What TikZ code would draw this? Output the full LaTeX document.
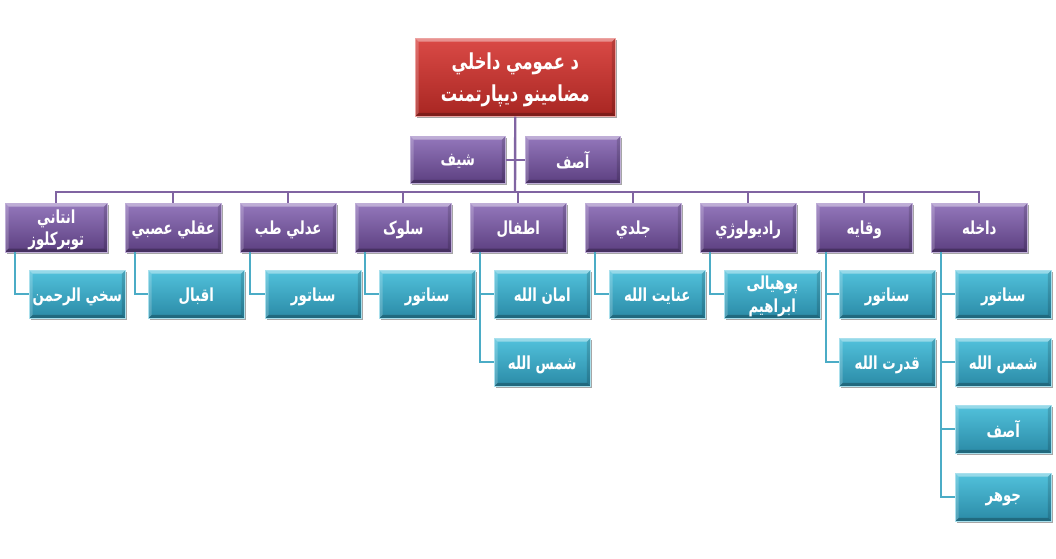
\documentclass[tikz,border=0pt]{standalone}
\usepackage{fontspec}
\TeXXeTstate=1
\newfontfamily\arabicfont[Script=Arabic,FakeStretch=0.74]{DejaVu Sans}
\usetikzlibrary{shadows,calc}
\definecolor{redT}{HTML}{DA4A46}
\definecolor{redB}{HTML}{A82622}
\definecolor{purT}{HTML}{9478BC}
\definecolor{purB}{HTML}{5C3F80}
\definecolor{tealT}{HTML}{52C2DC}
\definecolor{tealB}{HTML}{2A8AA6}
\definecolor{purLine}{HTML}{8064A2}
\definecolor{tealLine}{HTML}{4BACC6}
\newcommand\artxt[1]{\beginR #1\endR}
\begin{document}
\begin{tikzpicture}[x=0.75pt,y=-0.75pt,
 bevel/.style={path picture={
   \fill[white,opacity=0.4] (path picture bounding box.north west) -- (path picture bounding box.north east)
     -- ([xshift=-2.5pt,yshift=-2.5pt]path picture bounding box.north east) -- ([xshift=2.5pt,yshift=-2.5pt]path picture bounding box.north west) -- cycle;
   \fill[white,opacity=0.2] (path picture bounding box.north west) -- (path picture bounding box.south west)
     -- ([xshift=2.5pt,yshift=2.5pt]path picture bounding box.south west) -- ([xshift=2.5pt,yshift=-2.5pt]path picture bounding box.north west) -- cycle;
   \fill[black,opacity=0.25] (path picture bounding box.south west) -- (path picture bounding box.south east)
     -- ([xshift=-2.5pt,yshift=2.5pt]path picture bounding box.south east) -- ([xshift=2.5pt,yshift=2.5pt]path picture bounding box.south west) -- cycle;
   \fill[black,opacity=0.15] (path picture bounding box.north east) -- (path picture bounding box.south east)
     -- ([xshift=-2.5pt,yshift=2.5pt]path picture bounding box.south east) -- ([xshift=-2.5pt,yshift=-2.5pt]path picture bounding box.north east) -- cycle;
 }},
 box/.style={rectangle, anchor=north west, inner sep=1pt, minimum width=72pt, minimum height=36.5pt,
   align=center, text=white, font=\arabicfont\bfseries\fontsize{13.5}{17}\selectfont, line width=0.4pt, bevel,
   text depth=0pt,
   drop shadow={shadow xshift=1.5pt, shadow yshift=-1.5pt, opacity=0.35, fill=black}},
 redbox/.style={box, top color=redT, bottom color=redB, draw=redT!50!white, minimum width=150pt,
   minimum height=58.5pt, font=\arabicfont\bfseries\fontsize{16.5}{24}\selectfont},
 purbox/.style={box, top color=purT, bottom color=purB, draw=purT!60!white},
 tealbox/.style={box, top color=tealT, bottom color=tealB, draw=tealT!50!white, minimum height=36pt},
 pline/.style={draw=purLine, line width=1.8pt},
 tline/.style={draw=tealLine, line width=1.8pt},
]
\useasboundingbox (0,0) rectangle (1056,559);
\fill[white] (0,0) rectangle (1056,559);

% top and assistants
\node[redbox] (top) at (415,38) {\artxt{د عمومي داخلي}\\\artxt{مضامينو ديپارتمنت}};
\node[purbox, minimum width=71.25pt, minimum height=35.25pt] (a1) at (410,136) {\artxt{شيف}};
\node[purbox, minimum width=71.25pt, minimum height=35.25pt] (a2) at (525,136) {\artxt{آصف}};

% level 2
\node[purbox, minimum width=76.5pt] (l1) at (5,203) {\artxt{انتاني}\\\artxt{توبرکلوز}};
\node[purbox] (l2) at (125,203) {\artxt{عقلي عصبي}};
\node[purbox] (l3) at (240,203) {\artxt{عدلي طب}};
\node[purbox] (l4) at (355,203) {\artxt{سلوک}};
\node[purbox] (l5) at (470,203) {\artxt{اطفال}};
\node[purbox] (l6) at (585,203) {\artxt{جلدي}};
\node[purbox] (l7) at (700,203) {\artxt{راديولوژي}};
\node[purbox] (l8) at (816,203) {\artxt{وقایه}};
\node[purbox] (l9) at (931,203) {\artxt{داخله}};

% level 3
\node[tealbox] (c1) at (29,270) {\artxt{سخي الرحمن}};
\node[tealbox] (c2) at (148,270) {\artxt{اقبال}};
\node[tealbox] (c3) at (265,270) {\artxt{سناتور}};
\node[tealbox] (c4) at (379,270) {\artxt{سناتور}};
\node[tealbox] (c5a) at (494,270) {\artxt{امان الله}};
\node[tealbox] (c5b) at (494,338) {\artxt{شمس الله}};
\node[tealbox] (c6) at (609,270) {\artxt{عنایت الله}};
\node[tealbox] (c7) at (724,270) {\artxt{پوهیالی}\\\artxt{ابراهیم}};
\node[tealbox] (c8a) at (839,270) {\artxt{سناتور}};
\node[tealbox] (c8b) at (839,338) {\artxt{قدرت الله}};
\node[tealbox] (c9a) at (955,270) {\artxt{سناتور}};
\node[tealbox] (c9b) at (955,338) {\artxt{شمس الله}};
\node[tealbox] (c9c) at (955,405) {\artxt{آصف}};
\node[tealbox] (c9d) at (955,473) {\artxt{جوهر}};

% connectors
\coordinate (bus) at (515,192);
\draw[pline] (top.south) -- (bus);
\draw[pline] (a1.east) -- (a2.west);
\foreach \n in {l1,l2,l3,l4,l5,l6,l7,l8,l9}{\draw[pline] (bus) -| (\n.north);}

\draw[tline] ($(l1.south west)+(10,0)$) |- (c1.west);
\draw[tline] ($(l2.south west)+(10,0)$) |- (c2.west);
\draw[tline] ($(l3.south west)+(10,0)$) |- (c3.west);
\draw[tline] ($(l4.south west)+(10,0)$) |- (c4.west);
\draw[tline] ($(l5.south west)+(10,0)$) |- (c5a.west);
\draw[tline] ($(l5.south west)+(10,0)$) |- (c5b.west);
\draw[tline] ($(l6.south west)+(10,0)$) |- (c6.west);
\draw[tline] ($(l7.south west)+(10,0)$) |- (c7.west);
\draw[tline] ($(l8.south west)+(10,0)$) |- (c8a.west);
\draw[tline] ($(l8.south west)+(10,0)$) |- (c8b.west);
\draw[tline] ($(l9.south west)+(10,0)$) |- (c9a.west);
\draw[tline] ($(l9.south west)+(10,0)$) |- (c9b.west);
\draw[tline] ($(l9.south west)+(10,0)$) |- (c9c.west);
\draw[tline] ($(l9.south west)+(10,0)$) |- (c9d.west);
\end{tikzpicture}
\end{document}
